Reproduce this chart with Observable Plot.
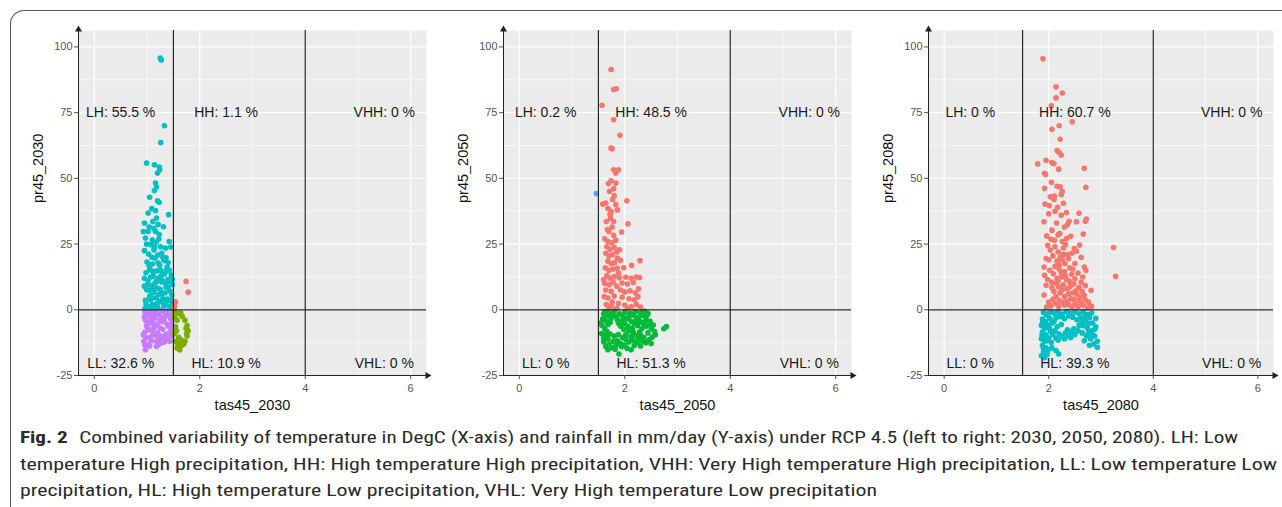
<!DOCTYPE html>
<html><head><meta charset="utf-8">
<script src="https://cdn.jsdelivr.net/npm/d3@7"></script>
<script src="https://cdn.jsdelivr.net/npm/@observablehq/plot@0.6"></script>
<style>
body{margin:0;width:1282px;height:507px;overflow:hidden;background:#fff;position:relative;font-family:"Liberation Sans",Arial,sans-serif}
#frame{position:absolute;left:10px;top:10px;width:1400px;height:700px;border-left:1.5px solid #555;border-top:1.5px solid #555;border-top-left-radius:14px;box-sizing:border-box}
.panel{position:absolute;top:0}
#caption{position:absolute;left:0;top:420px}
</style></head><body>
<div id="frame"></div>
<div id="p1" class="panel" style="left:0px"></div>
<div id="p2" class="panel" style="left:425px"></div>
<div id="p3" class="panel" style="left:850px"></div>
<svg id="caption" width="1282" height="87" font-family="'Liberation Sans Narrow','Roboto Condensed','Liberation Sans',Arial,sans-serif" font-size="16.5" fill="#2a2a2a">
<text x="20" y="23" textLength="1218" lengthAdjust="spacingAndGlyphs"><tspan font-weight="bold">Fig. 2</tspan><tspan dx="9">Combined variability of temperature in DegC (X-axis) and rainfall in mm/day (Y-axis) under RCP 4.5 (left to right: 2030, 2050, 2080). LH: Low</tspan></text>
<text x="20" y="50" textLength="1257" lengthAdjust="spacingAndGlyphs">temperature High precipitation, HH: High temperature High precipitation, VHH: Very High temperature High precipitation, LL: Low temperature Low</text>
<text x="20" y="76" textLength="857" lengthAdjust="spacingAndGlyphs">precipitation, HL: High temperature Low precipitation, VHL: Very High temperature Low precipitation</text>
</svg>
<script>
// ---- scales / ticks ----
const xDomain = [-0.3, 6.3];
const yDomain = [-25, 106.25];
const xTicks = [0, 2, 4, 6];
const xMinor = [1, 3, 5];
const yTicks = [-25, 0, 25, 50, 75, 100];
const yMinor = [-12.5, 12.5, 37.5, 62.5, 87.5];
const xCuts = [1.5, 4];
const yCuts = [0];
const labelX = [0.5, 2.5, 5.5];
const labelY = [75, -20.5];
const quadOrder = ["LH", "HH", "VHH", "LL", "HL", "VHL"];

// ---- percentages (LH, HH, VHH, LL, HL, VHL) ----
const pct2030 = [55.5, 1.1, 0, 32.6, 10.9, 0];
const pct2050 = [0.2, 48.5, 0, 0, 51.3, 0];
const pct2080 = [0, 60.7, 0, 0, 39.3, 0];

// ---- ggplot hue colours ----
const cRed = "#F8766D", cOlive = "#7CAE00", cGreen = "#00BA38", cTeal = "#00BFC4", cBlue = "#619CFF", cPurple = "#C77CFF";

// ---- 2030 points [tas, pr] ----
const lh2030 = [[1.25,95.8],[1.27,95.0],[1.33,70.0],[1.26,63.6],[0.99,55.8],[1.14,55.2],[1.23,54.3],[1.24,53.3],[1.20,52.0],[1.16,48.2],[1.18,46.7],[1.14,45.4],[1.05,42.8],[1.20,41.5],[1.23,40.9],[1.09,38.5],[1.16,37.8],[1.02,36.8],[1.41,36.2],[1.18,34.9],[1.11,33.6],[0.95,33.0],[1.31,31.6],[0.93,29.8],[1.02,29.8],[1.16,29.8],[1.23,28.6],[0.97,27.3],[1.10,26.5],[1.42,26.0],[1.07,24.7],[1.45,23.9],[1.35,23.5],[1.13,22.8],[0.95,22.5],
[1.03,21.2],[1.20,20.8],[1.28,21.5],[1.15,19.6],[1.32,18.8],[1.00,18.2],[1.10,17.4],[1.24,16.9],[1.38,16.2],[1.05,15.3],[1.18,14.8],[0.98,14.1],[1.33,13.6],[1.46,13.2],[1.12,12.7],[1.22,12.1],[1.40,11.6],[1.02,11.0],[1.28,10.6],[1.15,10.1],[1.48,9.6],[1.08,9.1],[1.36,8.7],[1.20,8.2],[0.99,7.6],[1.43,7.1],[1.12,6.6],[1.29,6.1],[1.47,5.6],[1.05,5.1],[1.18,4.6],[1.38,4.1],[0.97,3.6],[1.25,3.1],[1.48,2.6],[1.10,2.1],[1.32,1.6],[1.02,1.1],[1.20,0.8],[1.42,0.6],[1.15,0.3],[0.96,0.5],[1.35,2.3],[1.06,3.9],[1.22,5.8],[1.44,1.3],[1.27,13.0],[1.09,20.0],[1.17,25.5],[1.26,24.0],[1.30,11.0],[1.40,3.5],[1.13,8.0],[1.01,9.5],[1.37,14.8],[1.21,17.8],[1.07,12.5],[1.45,10.8],[1.11,4.5],[1.34,6.5],
[1.04,31.5],[1.13,31.0],[1.21,32.5],[0.99,25.0],[1.22,26.8],[1.30,20.0],[1.14,23.8],[1.36,19.8],[1.04,16.8],[1.26,15.0],[1.42,15.0],[1.11,14.6],[0.95,12.0],[1.18,10.8],[1.36,10.0],[1.05,7.2],[1.25,7.8],[1.40,8.6],[1.30,4.2],[1.16,1.8],[0.98,2.2],[1.46,3.6],[1.06,0.4],[1.30,0.2],[1.48,11.6],[1.20,2.6],[0.95,9.0],[1.40,18.0]];
const ll2030 = [[0.97,-15.2],[1.02,-13.3],[0.94,-12.0],[1.33,-12.3],[1.05,-10.5],[1.15,-9.8],[1.25,-10.0],[1.40,-9.0],[0.96,-8.5],[1.10,-8.0],[1.30,-7.5],[1.45,-7.0],[1.00,-6.5],[1.20,-6.0],[1.38,-5.5],[1.08,-5.0],[1.28,-4.5],[0.97,-4.0],[1.45,-3.5],[1.15,-3.0],[1.35,-2.5],[1.02,-2.0],[1.22,-1.5],[1.48,-1.0],[1.10,-0.8],[0.96,-1.0],[1.30,-0.5],[1.40,-11.0],[1.18,-12.0],[1.05,-13.8],[1.25,-7.0],[1.12,-3.5],[0.99,-6.0],[1.47,-5.0],[0.93,-9.5],[1.08,-11.8],[1.35,-9.5],[1.20,-8.8],[1.42,-2.0],[1.27,-2.8],[1.04,-7.6],[1.16,-5.5],[1.32,-4.0],[0.95,-2.8],[1.13,-1.5],[1.23,-11.0],[1.46,-8.0],[1.37,-1.0],[1.07,-3.0],[1.18,-14.0],[0.98,-10.8],[1.28,-12.5],[1.43,-12.0],[1.11,-9.6],[1.01,-4.8],[1.24,-4.0],
[1.06,-1.2],[1.18,-0.6],[1.40,-6.2],[1.31,-10.8],[1.13,-6.8],[0.96,-13.4],[1.22,-13.2],[1.48,-10.0]];
const hl2030 = [[1.53,-0.8],[1.60,-1.5],[1.67,-2.6],[1.72,-4.0],[1.76,-6.0],[1.78,-8.0],[1.76,-10.0],[1.72,-12.0],[1.66,-13.5],[1.62,-15.2],[1.57,-14.5],[1.53,-12.0],[1.52,-9.0],[1.54,-6.5],[1.57,-4.0],[1.60,-10.5],[1.52,-3.0],[1.65,-11.5],[1.74,-7.0],[1.56,-8.0],[1.70,-13.0],[1.64,-1.2],[1.58,-12.8],[1.75,-9.0]];
const hh2030 = [[1.74,10.8],[1.78,6.7],[1.54,3.0],[1.52,1.2]];

// ---- 2050 points ----
const hh2050 = [[1.74,91.4],[1.79,83.8],[1.84,84.1],[1.57,77.8],[1.79,72.3],[1.91,66.4],[1.74,61.5],[1.76,61.3],[1.79,53.3],[1.88,53.3],[1.83,52.0],[1.74,49.1],[1.83,48.2],[1.79,46.1],[1.71,45.1],[1.80,43.5],[2.04,41.5],[1.58,40.2],[1.64,40.6],[1.83,40.0],[1.74,37.4],[1.72,36.2],[1.65,33.6],[1.79,33.6],[2.06,32.7],[1.94,29.6],[1.70,29.8],[1.79,28.3],[1.90,22.8],[1.86,19.7],[2.29,18.7],[2.13,16.9],[2.28,12.3],[2.22,12.5],
[1.62,27.0],[1.68,26.0],[1.75,25.5],[1.83,26.5],[1.66,24.0],[1.72,23.0],[1.80,23.8],[1.64,21.5],[1.70,20.5],[1.77,21.0],[1.85,22.0],[1.68,18.5],[1.74,17.5],[1.81,18.0],[1.92,18.8],[1.63,16.0],[1.70,15.0],[1.78,15.5],[1.86,15.8],[1.98,16.0],[1.66,13.0],[1.72,12.0],[1.80,12.6],[1.90,12.2],[2.02,12.4],[2.12,12.0],[1.62,10.0],[1.70,9.5],[1.78,10.5],[1.85,9.0],[1.95,10.2],[2.05,9.8],[2.16,10.5],[1.64,7.5],[1.74,7.0],[1.92,7.5],[2.00,6.8],[2.10,7.2],[2.20,6.5],[1.61,5.0],[1.68,4.5],[1.80,5.2],[1.95,4.8],[2.08,4.2],[2.18,3.8],[2.25,5.0],[1.65,2.0],[1.75,1.5],[1.88,2.5],[2.00,1.8],[2.12,1.2],[2.22,2.0],[2.30,1.0],[1.70,0.6],[1.85,0.5],[2.05,0.6],[1.60,11.5],[2.26,8.0],[1.88,14.0],[1.76,3.0],
[1.67,30.5],[1.76,31.5],[1.73,34.8],[1.86,38.0],[1.68,38.5],[1.77,42.0],[1.69,48.0]];
const hl2050 = [[1.62,-0.8],[1.70,-1.2],[1.80,-0.6],[1.90,-1.5],[2.00,-0.9],[2.10,-1.3],[2.20,-0.7],[2.30,-1.1],[2.38,-0.6],[1.66,-2.2],[1.96,-2.4],[2.16,-2.0],[2.42,-2.2],
[1.58,-3.5],[1.64,-4.2],[1.74,-3.2],[1.86,-3.8],[1.94,-4.5],[2.04,-3.4],[2.12,-4.4],[2.22,-3.6],[2.30,-4.6],[2.40,-3.8],[2.48,-4.4],[2.00,-5.3],[2.18,-5.2],
[1.57,-6.0],[1.62,-7.2],[1.68,-5.6],[1.92,-6.2],[1.98,-7.5],[2.06,-6.4],[2.14,-7.0],[2.24,-6.0],[2.32,-7.2],[2.40,-6.3],[2.50,-7.0],[2.56,-8.2],[2.74,-7.2],[2.79,-6.4],[2.08,-8.0],[2.28,-8.5],[2.44,-8.8],
[1.56,-9.0],[1.64,-9.8],[1.72,-9.2],[1.80,-10.0],[1.88,-9.4],[1.96,-10.6],[2.02,-9.5],[2.12,-10.2],[2.20,-9.6],[2.36,-10.5],[2.52,-10.4],[2.58,-9.5],[1.68,-11.0],[2.46,-11.4],
[1.60,-12.2],[1.70,-13.0],[1.78,-12.0],[1.86,-11.8],[1.92,-12.8],[2.00,-13.4],[2.08,-12.2],[2.16,-11.6],[2.24,-12.6],[2.40,-12.5],[2.50,-12.8],[1.64,-14.0],[1.76,-14.4],[2.04,-14.6],[2.30,-13.8],
[1.68,-15.2],[1.82,-15.0],[1.89,-16.8],[2.12,-15.2],
[1.60,-1.6],[1.76,-2.0],[1.84,-2.6],[2.26,-2.8],[2.34,-2.2],[1.72,-4.8],[2.08,-2.6],[2.26,-10.8],[2.36,-5.4],[1.66,-8.2],[2.46,-5.5],[1.94,-14.0],[2.18,-13.6],[1.60,-10.8],[2.54,-5.8],[2.16,-8.6],[1.88,-5.0],[2.44,-1.4],[1.54,-5.0],[2.30,-9.8],
[2.02,-11.2],[2.22,-4.8],[1.98,-3.2],[2.34,-12.0],[1.84,-13.4]];
const lh2050 = [[1.46,44.2]];

// ---- 2080 points ----
const hh2080 = [[1.89,95.5],[2.14,84.8],[2.26,82.5],[2.14,80.6],[2.05,77.6],[2.45,71.5],[2.20,70.0],[2.06,68.7],[2.22,64.9],[2.16,60.6],[2.24,58.9],[2.20,59.8],[1.79,55.5],[1.95,56.9],[2.06,56.0],[2.10,55.6],[2.68,53.8],[2.19,53.5],[1.92,51.9],[1.94,51.5],[2.71,46.6],[1.92,46.2],[2.22,46.8],[2.03,43.0],[2.11,43.3],[2.24,43.9],[1.93,40.2],[2.01,39.7],[2.28,40.5],[2.17,39.0],[2.34,37.0],[2.58,36.7],[2.39,33.7],[1.91,33.5],[2.72,34.5],[2.70,33.7],[2.53,33.5],[1.96,28.1],[2.06,30.3],[2.21,29.0],[2.34,27.1],[2.66,28.8],[2.59,24.6],[3.24,23.7],[2.03,22.7],[2.11,26.5],[2.49,23.3],[2.53,22.3],[1.95,19.5],[2.22,20.1],[2.31,17.6],[2.50,17.6],[1.91,16.3],[2.68,16.3],[2.71,15.0],[3.28,12.7],[1.92,13.1],[2.09,13.7],[2.25,12.5],[2.50,11.8],[2.65,12.5],[1.95,9.3],[2.19,8.7],[2.41,8.9],[2.81,7.4],[1.91,5.6],[2.14,5.1],[2.38,6.1],[2.60,4.8],[2.00,2.9],[2.25,2.9],[2.50,2.3],[2.76,2.9],[1.96,1.0],[2.19,1.3],[2.44,1.0],[2.66,1.7],[2.82,1.3],
[2.12,24.0],[2.18,22.0],[2.28,23.5],[2.08,20.5],[2.16,18.5],[2.26,19.0],[2.36,21.0],[2.12,16.5],[2.20,15.5],[2.30,14.5],[2.40,16.0],[2.02,15.0],[2.16,12.0],[2.34,11.5],[2.44,13.5],[2.56,14.0],[2.06,10.5],[2.28,9.5],[2.36,8.0],[2.48,9.8],[2.58,8.5],[2.70,9.2],[2.10,7.0],[2.22,6.5],[2.30,5.0],[2.46,6.5],[2.54,5.8],[2.68,5.5],[2.08,4.0],[2.20,3.5],[2.34,3.0],[2.42,4.2],[2.58,3.6],[2.70,3.8],[2.04,1.5],[2.30,1.8],[2.56,1.2],[2.74,0.8],[2.38,19.5],[2.04,26.8],[2.24,36.0],[2.15,33.0],[2.30,31.5],[2.00,36.5],[2.42,28.0],[2.62,20.0],[2.46,15.5],[2.26,26.0],[2.12,37.5],[2.36,32.5],[2.05,48.5],[2.16,47.0],[2.18,28.5],[1.98,24.5],[2.44,21.5],[2.62,10.5],[2.14,10.0],[2.52,7.2],[2.32,12.8],[1.98,11.5],
[2.20,17.0],[2.24,14.0],[2.28,21.0],[2.18,11.0],[2.40,10.8],[2.38,2.0],[2.62,2.6],[2.12,2.4],[2.48,4.0],[2.26,7.6],[2.06,8.4],[2.64,7.0],[2.00,19.0],[2.32,24.8],[2.10,42.0],[2.26,45.0]];
const hl2080 = [[1.90,-1.0],[1.96,-2.0],[2.04,-0.8],[1.88,-3.5],[1.94,-4.5],[2.02,-3.2],[1.86,-6.0],[1.92,-7.0],[2.00,-5.8],[1.88,-8.5],[1.95,-9.5],[2.04,-8.2],[1.86,-11.0],[1.92,-12.0],[2.00,-10.8],[1.88,-13.5],[1.95,-14.5],[1.90,-16.0],[1.86,-17.5],[1.97,-17.0],[2.05,-12.5],[1.92,-18.2],[1.98,-15.5],[1.87,-9.8],[2.06,-5.0],[1.90,-14.8],
[2.10,-1.2],[2.18,-0.8],[2.26,-1.6],[2.34,-0.6],[2.42,-1.4],[2.50,-0.8],[2.58,-1.5],[2.66,-0.9],[2.74,-1.8],[2.14,-3.0],[2.30,-3.4],[2.46,-2.8],[2.62,-3.2],[2.22,-2.6],[2.38,-2.4],[2.54,-3.8],[2.10,-4.5],
[2.08,-9.5],[2.14,-10.8],[2.20,-9.2],[2.26,-10.2],[2.32,-8.8],[2.38,-9.8],[2.44,-8.4],[2.50,-9.5],[2.56,-8.0],[2.18,-11.5],[2.30,-11.0],[2.42,-10.6],[2.12,-8.0],[2.36,-7.6],[2.48,-7.2],
[2.70,-4.0],[2.78,-3.0],[2.84,-5.0],[2.66,-6.0],[2.74,-7.0],[2.82,-8.0],[2.90,-6.5],[2.64,-8.8],[2.72,-10.0],[2.80,-11.0],[2.88,-10.0],[2.93,-12.0],[2.86,-13.0],[2.93,-14.3],[2.78,-13.5],[2.68,-11.8],[2.90,-3.2],[2.62,-5.0],[2.76,-5.2],[2.84,-9.5],
[2.14,-15.5],[2.19,-16.8],[2.06,-14.5],[2.24,-5.6],[2.58,-6.0],[2.16,-6.5],
[1.98,-1.5],[1.94,-6.4],[1.98,-11.8],[1.88,-5.0],[2.02,-7.2],[1.90,-10.8],[2.82,-1.2],[2.70,-2.6],[2.88,-7.4],[2.76,-9.0]];

const panels = [
  {id: "p1", width: 430, xTitle: "tas45_2030", yTitle: "pr45_2030", pcts: pct2030,
   series: [[lh2030, cTeal], [ll2030, cPurple], [hl2030, cOlive], [hh2030, cRed]]},
  {id: "p2", width: 430, xTitle: "tas45_2050", yTitle: "pr45_2050", pcts: pct2050,
   series: [[hh2050, cRed], [hl2050, cGreen], [lh2050, cBlue]]},
  {id: "p3", width: 427, xTitle: "tas45_2080", yTitle: "pr45_2080", pcts: pct2080,
   series: [[hh2080, cRed], [hl2080, cTeal]]}
];

const font = "'Liberation Sans', Arial, Helvetica, sans-serif";
const fmt = d => String(d);

for (const p of panels) {
  const labels = quadOrder.map((q, i) => ({x: labelX[i % 3], y: labelY[Math.floor(i / 3)], t: `${q}: ${p.pcts[i]} %`}));
  const chart = Plot.plot({
    width: p.width, height: 420,
    marginLeft: 78, marginRight: 4, marginTop: 30, marginBottom: 45,
    style: {fontFamily: font, background: "transparent", overflow: "visible"},
    x: {domain: xDomain, axis: null},
    y: {domain: yDomain, axis: null},
    marks: [
      Plot.frame({fill: "#ebebeb", stroke: "none"}),
      Plot.ruleX(xMinor, {stroke: "#ffffff", strokeWidth: 0.6}),
      Plot.ruleY(yMinor, {stroke: "#ffffff", strokeWidth: 0.6}),
      Plot.ruleX(xTicks, {stroke: "#ffffff", strokeWidth: 1.2}),
      Plot.ruleY(yTicks, {stroke: "#ffffff", strokeWidth: 1.2}),
      ...p.series.map(([pts, col]) => Plot.dot(pts, {x: d => d[0], y: d => d[1], r: 2.8, fill: col, stroke: "none"})),
      Plot.ruleX(xCuts, {stroke: "#262626", strokeWidth: 1.2}),
      Plot.ruleY(yCuts, {stroke: "#262626", strokeWidth: 1.2}),
      Plot.text(labels, {x: "x", y: "y", text: "t", fontSize: 14, fill: "#1a1a1a"}),
      Plot.ruleY([yDomain[0]], {stroke: "#222", strokeWidth: 1}),
      Plot.ruleX([xDomain[0]], {stroke: "#222", strokeWidth: 1}),
      Plot.dot([0], {x: xDomain[1], y: yDomain[0], symbol: "triangle", rotate: 90, r: 2.6, fill: "#222", stroke: "none", dx: 1}),
      Plot.dot([0], {x: xDomain[0], y: yDomain[1], symbol: "triangle", r: 2.6, fill: "#222", stroke: "none", dy: -1}),
      Plot.axisX({ticks: xTicks, tickSize: 4, tickPadding: 5, fontSize: 11, color: "#555", label: null, tickFormat: fmt}),
      Plot.axisY({ticks: yTicks, tickSize: 4, tickPadding: 2, fontSize: 11, color: "#555", label: null, tickFormat: fmt}),
      Plot.text([p.xTitle], {text: d => d, frameAnchor: "bottom", dy: 34, fontSize: 14.5, fill: "#111"}),
      Plot.text([p.yTitle], {text: d => d, frameAnchor: "left", rotate: -90, dx: -40, fontSize: 14.5, fill: "#111"})
    ]
  });
  document.getElementById(p.id).appendChild(chart);
}
</script>
</body></html>
